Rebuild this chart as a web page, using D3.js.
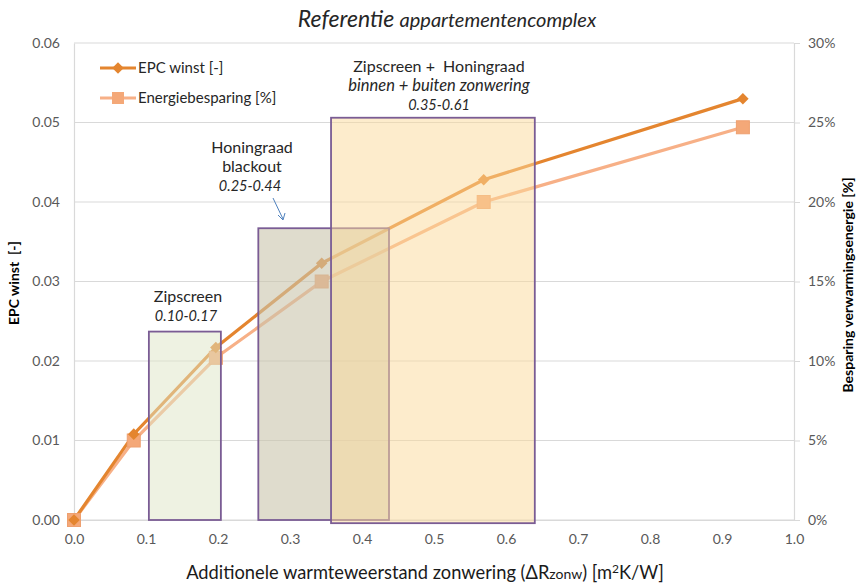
<!DOCTYPE html>
<html>
<head>
<meta charset="utf-8">
<script src="https://cdn.jsdelivr.net/npm/d3@7"></script>
<style>
  body { margin: 0; background: #fff; }
  svg text { font-family: Lato, "Open Sans", sans-serif; white-space: pre; }
</style>
</head>
<body>
<svg id="chart" width="860" height="584"></svg>
<script>
// Additional thermal resistance of the shading (ΔR) for each calculated case
const deltaR = [0, 0.083, 0.197, 0.344, 0.569, 0.929];
// EPC gain [-] (left axis)
const epcWinst = [0, 0.0108, 0.0217, 0.0323, 0.0428, 0.053];
// Heating energy saving [%] (right axis)
const besparing = [0, 5.0, 10.2, 15.0, 20.0, 24.7];

// Ranges of ΔR for the shading products
const zoneNames = ["Zipscreen", "Honingraad blackout", "Zipscreen + Honingraad"];
const zoneStart = [0.104, 0.256, 0.357];
const zoneEnd = [0.204, 0.4375, 0.640];
const zoneTop = [0.0237, 0.0367, 0.0506];
const zoneBottom = [0, 0, -0.0004];

const xTicks = [0, 0.1, 0.2, 0.3, 0.4, 0.5, 0.6, 0.7, 0.8, 0.9, 1.0];
const yLeftTicks = [0, 0.01, 0.02, 0.03, 0.04, 0.05, 0.06];
const yRightTicks = [0, 5, 10, 15, 20, 25, 30];

const svg = d3.select("#chart");
const plotLeft = 74, plotRight = 794, plotTop = 43, plotBottom = 520;

const x = d3.scaleLinear().domain([0, 1]).range([plotLeft, plotRight]);
const yL = d3.scaleLinear().domain([0, 0.06]).range([plotBottom, plotTop]);
const yR = d3.scaleLinear().domain([0, 30]).range([plotBottom, plotTop]);

const gridColor = "#d9d9d9";
const tickText = "#595959";

// horizontal gridlines
svg.append("g").selectAll("line").data(yLeftTicks).join("line")
  .attr("x1", plotLeft).attr("x2", plotRight)
  .attr("y1", d => yL(d)).attr("y2", d => yL(d))
  .attr("stroke", gridColor).attr("stroke-width", 1);

// left axis
const axL = svg.append("g").attr("transform", `translate(${plotLeft},0)`)
  .call(d3.axisLeft(yL).tickValues(yLeftTicks).tickFormat(d3.format(".2f")).tickSize(0).tickPadding(14));
// right axis
const axR = svg.append("g").attr("transform", `translate(${plotRight},0)`)
  .call(d3.axisRight(yR).tickValues(yRightTicks).tickFormat(d => d + "%").tickSize(6).tickPadding(8));
// bottom axis
const axB = svg.append("g").attr("transform", `translate(0,${plotBottom})`)
  .call(d3.axisBottom(x).tickValues(xTicks).tickFormat(d3.format(".1f")).tickSize(0).tickPadding(14));

[axL, axR, axB].forEach(a => {
  a.select(".domain").attr("stroke", gridColor).attr("stroke-width", 1.2);
  a.selectAll(".tick line").attr("stroke", gridColor);
  a.selectAll(".tick text").attr("fill", tickText).style("font-size", "14px")
    .style("font-family", "Lato, 'Open Sans', sans-serif");
});

// series
const epcColor = "#e4852f";
const besColor = "#f7b087";

const lineEpc = d3.line().x((d, i) => x(deltaR[i])).y(d => yL(d));
const lineBes = d3.line().x((d, i) => x(deltaR[i])).y(d => yR(d));

svg.append("path").datum(besparing).attr("d", lineBes)
  .attr("fill", "none").attr("stroke", besColor).attr("stroke-width", 3.2);
svg.append("path").datum(epcWinst).attr("d", lineEpc)
  .attr("fill", "none").attr("stroke", epcColor).attr("stroke-width", 3.2);

svg.append("g").selectAll("rect").data(besparing).join("rect")
  .attr("x", (d, i) => x(deltaR[i]) - 6.5).attr("y", d => yR(d) - 6.5)
  .attr("width", 13).attr("height", 13)
  .attr("fill", "#f4a878").attr("stroke", "#eea070").attr("stroke-width", 1);

const diamond = d3.symbol().type(d3.symbolDiamond2).size(85);
svg.append("g").selectAll("path").data(epcWinst).join("path")
  .attr("transform", (d, i) => `translate(${x(deltaR[i])},${yL(d)})`)
  .attr("d", diamond).attr("fill", epcColor);

// product ranges, translucent boxes over the curves
const zoneFill = ["#dde5c5", "#cac5ac", "#fbd999"];
const zoneOpacity = [0.5, 0.6, 0.5];
svg.append("g").selectAll("rect").data(zoneNames).join("rect")
  .attr("x", (d, i) => x(zoneStart[i]))
  .attr("y", (d, i) => yL(zoneTop[i]))
  .attr("width", (d, i) => x(zoneEnd[i]) - x(zoneStart[i]))
  .attr("height", (d, i) => yL(zoneBottom[i]) - yL(zoneTop[i]))
  .attr("fill", (d, i) => zoneFill[i])
  .attr("fill-opacity", (d, i) => zoneOpacity[i])
  .attr("stroke", "#7a5c94").attr("stroke-width", 1.8);

// annotation texts
const annColor = "#262626";
function label(cx, cy, str, italic, size) {
  svg.append("text").attr("x", cx).attr("y", cy).attr("text-anchor", "middle")
    .attr("fill", annColor).style("font-size", size + "px")
    .style("font-style", italic ? "italic" : "normal").text(str);
}
label(188, 302, "Zipscreen", false, 16);
label(186, 321, "0.10-0.17", true, 14.5);
label(252, 153, "Honingraad", false, 16);
label(252, 172, "blackout", false, 16);
label(250, 191, "0.25-0.44", true, 14.5);
label(439, 72, "Zipscreen +  Honingraad", false, 16);
label(439, 91, "binnen + buiten zonwering", true, 16.5);
label(439, 110, "0.35-0.61", true, 14.5);

// arrow pointing at the blackout box
svg.append("line").attr("x1", 273).attr("y1", 198).attr("x2", 283).attr("y2", 219)
  .attr("stroke", "#4f81bd").attr("stroke-width", 1);
svg.append("path").attr("d", "M278,215 L283,220 L285,213")
  .attr("fill", "none").attr("stroke", "#4f81bd").attr("stroke-width", 1);

// legend
const legend = svg.append("g");
const legItems = [
  { name: "EPC winst [-]", color: epcColor, shape: "diamond", y: 68 },
  { name: "Energiebesparing [%]", color: besColor, shape: "square", y: 98 }
];
legItems.forEach(it => {
  legend.append("line").attr("x1", 100).attr("x2", 136).attr("y1", it.y).attr("y2", it.y)
    .attr("stroke", it.color).attr("stroke-width", 3.2);
  if (it.shape === "diamond") {
    legend.append("path").attr("transform", `translate(118,${it.y})`).attr("d", diamond).attr("fill", it.color);
  } else {
    legend.append("rect").attr("x", 112).attr("y", it.y - 6).attr("width", 12).attr("height", 12)
      .attr("fill", "#f4a878");
  }
  legend.append("text").attr("x", 138).attr("y", it.y + 5).attr("fill", annColor)
    .style("font-size", "15px").text(it.name);
});

// title
const title = svg.append("text").attr("x", 447).attr("y", 27).attr("text-anchor", "middle")
  .attr("fill", "#262626").style("font-style", "italic");
title.append("tspan").style("font-size", "23px").text("Referentie ");
title.append("tspan").style("font-size", "20px").text("appartementencomplex");

// axis titles
svg.append("text").attr("transform", "translate(19,283) rotate(-90)").attr("text-anchor", "middle")
  .attr("fill", "#000").style("font-size", "14px").style("font-weight", "bold").text("EPC winst  [-]");
svg.append("text").attr("transform", "translate(853,285) rotate(-90)").attr("text-anchor", "middle")
  .attr("fill", "#000").style("font-size", "14px").style("font-weight", "bold").text("Besparing verwarmingsenergie [%]");

const xt = svg.append("text").attr("x", 425).attr("y", 579).attr("text-anchor", "middle")
  .attr("fill", "#1a1a1a").style("font-size", "18.3px");
xt.append("tspan").text("Additionele warmteweerstand zonwering (ΔR");
xt.append("tspan").style("font-size", "14px").text("zonw");
xt.append("tspan").text(") [m");
xt.append("tspan").style("font-size", "12px").attr("dy", -6).text("2");
xt.append("tspan").attr("dy", 6).text("K/W]");
</script>
</body>
</html>
